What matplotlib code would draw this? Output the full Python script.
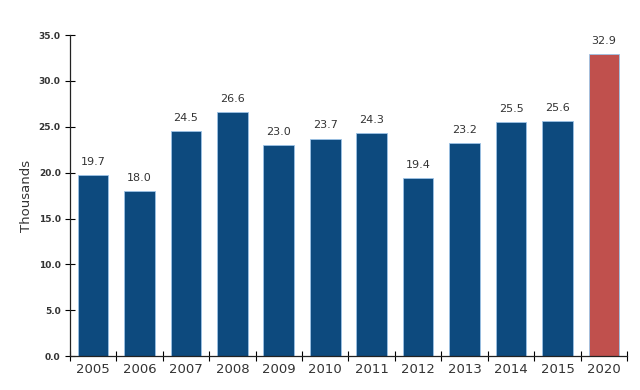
import numpy as np
import matplotlib.pyplot as plt

plt.rcParams['font.family'] = ['DejaVu Sans']

years = ['2005', '2006', '2007', '2008', '2009', '2010',
         '2011', '2012', '2013', '2014', '2015', '2020']
values = [19.7, 18.0, 24.5, 26.6, 23.0, 23.7, 24.3, 19.4, 23.2, 25.5, 25.6, 32.9]
yticks = [0, 5, 10, 15, 20, 25, 30, 35]

blue = '#0d4a7e'
red = '#c0504d'
colors = [blue] * 11 + [red]

fig = plt.figure(figsize=(6.4, 3.9), dpi=100)
ax = fig.add_axes([0.109, 0.087, 0.871, 0.823])

x = np.arange(len(years))
bars = ax.bar(x, values, width=0.66, color=colors, edgecolor='#9cc3e6', linewidth=0.6)

for xi, v in zip(x, values):
    ax.text(xi, v + 0.9, '{:.1f}'.format(v), ha='center', va='bottom',
            fontsize=8, color='#333333')

ax.set_xlim(-0.5, len(years) - 0.5)
ax.set_ylim(0, 35)
ax.set_yticks(yticks)
ax.set_yticklabels(['{:.1f}'.format(t) for t in yticks], fontsize=6.5,
                   fontweight='bold', color='#333333')
ax.set_xticks(x)
ax.set_xticklabels(years, fontsize=9.5, color='#333333')
ax.set_xticks(np.arange(-0.5, len(years)), minor=True)
ax.tick_params(axis='x', which='major', length=0, pad=5)
ax.tick_params(axis='x', which='minor', direction='inout', length=7, width=0.8)
ax.tick_params(axis='y', direction='inout', length=7, width=0.8, pad=3)
ax.set_ylabel('Thousands', fontsize=9.5, color='#333333', labelpad=4)

for s in ['top', 'right']:
    ax.spines[s].set_visible(False)
for s in ['left', 'bottom']:
    ax.spines[s].set_linewidth(0.9)
    ax.spines[s].set_color('#222222')

plt.savefig('out.png', dpi=100)
